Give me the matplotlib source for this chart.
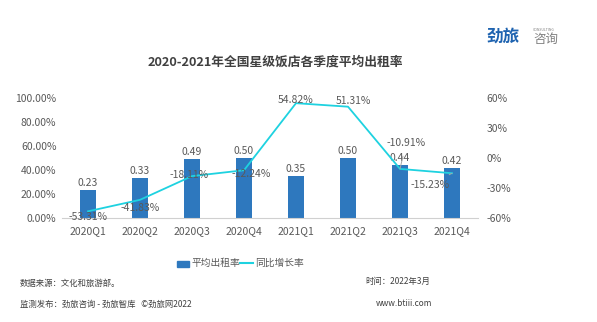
import numpy as np
import matplotlib
matplotlib.use('Agg')
import matplotlib.pyplot as plt

plt.rcParams['font.family'] = ['Noto Sans CJK SC', 'DejaVu Sans']

# quarterly data
quarters = ['2020Q1', '2020Q2', '2020Q3', '2020Q4', '2021Q1', '2021Q2', '2021Q3', '2021Q4']
occupancy = [0.23, 0.33, 0.49, 0.50, 0.35, 0.50, 0.44, 0.42]
yoy = [-53.31, -41.83, -18.11, -12.24, 54.82, 51.31, -10.91, -15.23]
left_ticks = [0, 20, 40, 60, 80, 100]
right_ticks = [-60, -30, 0, 30, 60]

bar_color = '#2E78BE'
line_color = '#1ED2E0'
text_color = '#595959'

fig = plt.figure(figsize=(5.97, 3.22), dpi=100)
ax = fig.add_axes([62 / 597, 1 - 218 / 322, 416 / 597, 120 / 322])
x = np.arange(len(quarters))

ax.bar(x, [v * 100 for v in occupancy], width=0.31, color=bar_color, zorder=2)
ax.set_xlim(-0.5, len(quarters) - 0.5)
ax.set_ylim(0, 100)
ax.set_yticks(left_ticks)
ax.set_yticklabels(['%.2f%%' % t for t in left_ticks])
ax.set_xticks(x)
ax.set_xticklabels(quarters)
for s in ['top', 'left', 'right']:
    ax.spines[s].set_visible(False)
ax.spines['bottom'].set_color('#D0D0D0')
ax.tick_params(length=0, labelsize=7.5, colors=text_color, pad=4)
ax.tick_params(axis='x', pad=6)

# bar value labels
for i, v in enumerate(occupancy):
    ax.annotate('%.2f' % v, (i, v * 100), xytext=(0, 7), textcoords='offset pixels',
                ha='center', va='center', fontsize=7.5, color=text_color)

ax2 = ax.twinx()
ax2.plot(x, yoy, color=line_color, lw=1.3, zorder=3)
ax2.set_ylim(-60, 60)
ax2.set_yticks(right_ticks)
ax2.set_yticklabels(['%d%%' % t for t in right_ticks])
for s in ['top', 'left', 'right', 'bottom']:
    ax2.spines[s].set_visible(False)
ax2.tick_params(length=0, labelsize=7.5, colors=text_color, pad=6)

# growth labels (pixel offsets from each point)
offsets = [(0, -6), (0, -8), (-3, 1), (7, -4), (0, 3), (5, 6), (6, 26), (-22, -12)]
for i, (v, (dx, dy)) in enumerate(zip(yoy, offsets)):
    arrow = None
    if i >= 6:
        arrow = dict(arrowstyle='-', color='#A6A6A6', lw=0.7, shrinkA=4, shrinkB=0)
    ax2.annotate('%.2f%%' % v, (i, v), xytext=(dx, dy), textcoords='offset pixels',
                 ha='center', va='center', fontsize=7.5, color=text_color,
                 arrowprops=arrow)

fig.text(275 / 597, 1 - 62 / 322, '2020-2021年全国星级饭店各季度平均出租率',
         ha='center', va='center', fontsize=9.2, fontweight='bold', color='#404040')

# legend
fig.patches.append(plt.Rectangle((177 / 597, 1 - 266.5 / 322), 12 / 597, 6 / 322,
                                 transform=fig.transFigure, color=bar_color))
fig.text(191 / 597, 1 - 263 / 322, '平均出租率', ha='left', va='center',
         fontsize=7, color=text_color)
fig.add_artist(plt.Line2D([240 / 597, 253 / 597], [1 - 263 / 322] * 2,
                          transform=fig.transFigure, color=line_color, lw=1.5))
fig.text(255 / 597, 1 - 263 / 322, '同比增长率', ha='left', va='center',
         fontsize=7, color=text_color)

# footer
foot = '#404040'
fig.text(20 / 597, 1 - 283 / 322, '数据来源：文化和旅游部。', ha='left', va='center',
         fontsize=6, color=foot)
fig.text(20 / 597, 1 - 304 / 322, '监测发布：劲旅咨询 - 劲旅智库   ©劲旅网2022', ha='left',
         va='center', fontsize=6, color=foot)
fig.text(365 / 597, 1 - 281 / 322, '时间：2022年3月', ha='left', va='center',
         fontsize=6, color=foot)
fig.text(376 / 597, 1 - 303 / 322, 'www.btiii.com', ha='left', va='center',
         fontsize=6, color=foot)

# logo
fig.text(487 / 597, 1 - 37 / 322, '劲旅', ha='left', va='center', fontsize=12,
         fontweight='bold', color='#1E63B0')
fig.text(533 / 597, 1 - 39 / 322, '咨询', ha='left', va='center', fontsize=9,
         color='#7F7F7F')
fig.text(533 / 597, 1 - 30 / 322, 'CONSULTING', ha='left', va='center', fontsize=2.5,
         color='#7F7F7F')

fig.savefig('out.png', dpi=100)
